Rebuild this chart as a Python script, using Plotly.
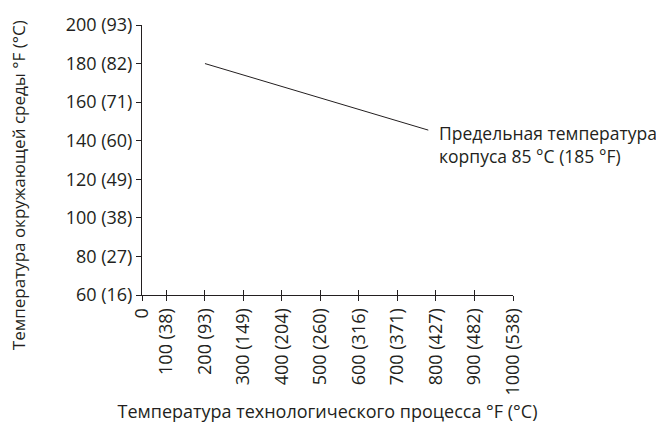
import plotly.graph_objects as go

# Ось X: температура процесса, °F (первая метка "0" стоит в начале оси)
x_tick_vals = [36.5, 100, 200, 300, 400, 500, 600, 700, 800, 900, 1000]
x_tick_text = ["0", "100 (38)", "200 (93)", "300 (149)", "400 (204)", "500 (260)",
               "600 (316)", "700 (371)", "800 (427)", "900 (482)", "1000 (538)"]

# Ось Y: температура окружающей среды, °F
y_tick_vals = [60, 80, 100, 120, 140, 160, 180, 200]
y_tick_text = ["60 (16)", "80 (27)", "100 (38)", "120 (49)", "140 (60)",
               "160 (71)", "180 (82)", "200 (93)"]

# Линия предельной температуры
limit_x = [200, 780]
limit_y = [180, 145.5]

txt = "#231f20"
fnt = "Open Sans"

fig = go.Figure()
fig.add_trace(go.Scatter(
    x=limit_x, y=limit_y, mode="lines",
    line=dict(color="#231f20", width=1),
    showlegend=False, hoverinfo="skip",
))

fig.add_annotation(
    x=limit_x[-1], y=limit_y[-1], xref="x", yref="y",
    text="Предельная температура<br>корпуса 85 °C (185 °F)",
    showarrow=False, xanchor="left", yanchor="middle", align="left",
    xshift=9, yshift=-14,
    font=dict(family=fnt, size=17.5, color=txt),
)

# подпись оси Y — отдельной аннотацией, чтобы не сдвигать поля
fig.add_annotation(
    x=-0.334, y=0.407, xref="paper", yref="paper",
    text="Температура окружающей среды °F (°C)",
    textangle=-90, showarrow=False, xanchor="center", yanchor="middle",
    font=dict(family=fnt, size=17, color=txt),
)

fig.update_layout(
    width=664, height=426,
    paper_bgcolor="white", plot_bgcolor="white",
    font=dict(family=fnt, size=18, color=txt),
    margin=dict(l=134, r=159, t=17, b=139),
    xaxis=dict(
        range=[36.5, 1000], tickvals=x_tick_vals, ticktext=x_tick_text,
        tickangle=-90, ticks="outside", ticklen=5, tickcolor="#231f20",
        showline=True, linecolor="#231f20", linewidth=1,
        showgrid=False, zeroline=False,
        title=dict(text="Температура технологического процесса °F (°C)",
                   font=dict(size=18), standoff=10),
    ),
    xaxis2=dict(
        range=[36.5, 1000], tickvals=x_tick_vals, overlaying="x",
        ticks="inside", ticklen=5, tickcolor="#231f20",
        showticklabels=False, showgrid=False, zeroline=False, showline=False,
    ),
    yaxis=dict(
        range=[60, 200], tickvals=y_tick_vals, ticktext=y_tick_text,
        ticks="outside", ticklen=5, tickcolor="#231f20",
        showline=True, linecolor="#231f20", linewidth=1,
        showgrid=False, zeroline=False, automargin=False,
    ),
)

# пустая трасса, чтобы показать вторую ось с внутренними засечками
fig.add_trace(go.Scatter(x=[], y=[], xaxis="x2", showlegend=False))

fig.write_html("out.html")
